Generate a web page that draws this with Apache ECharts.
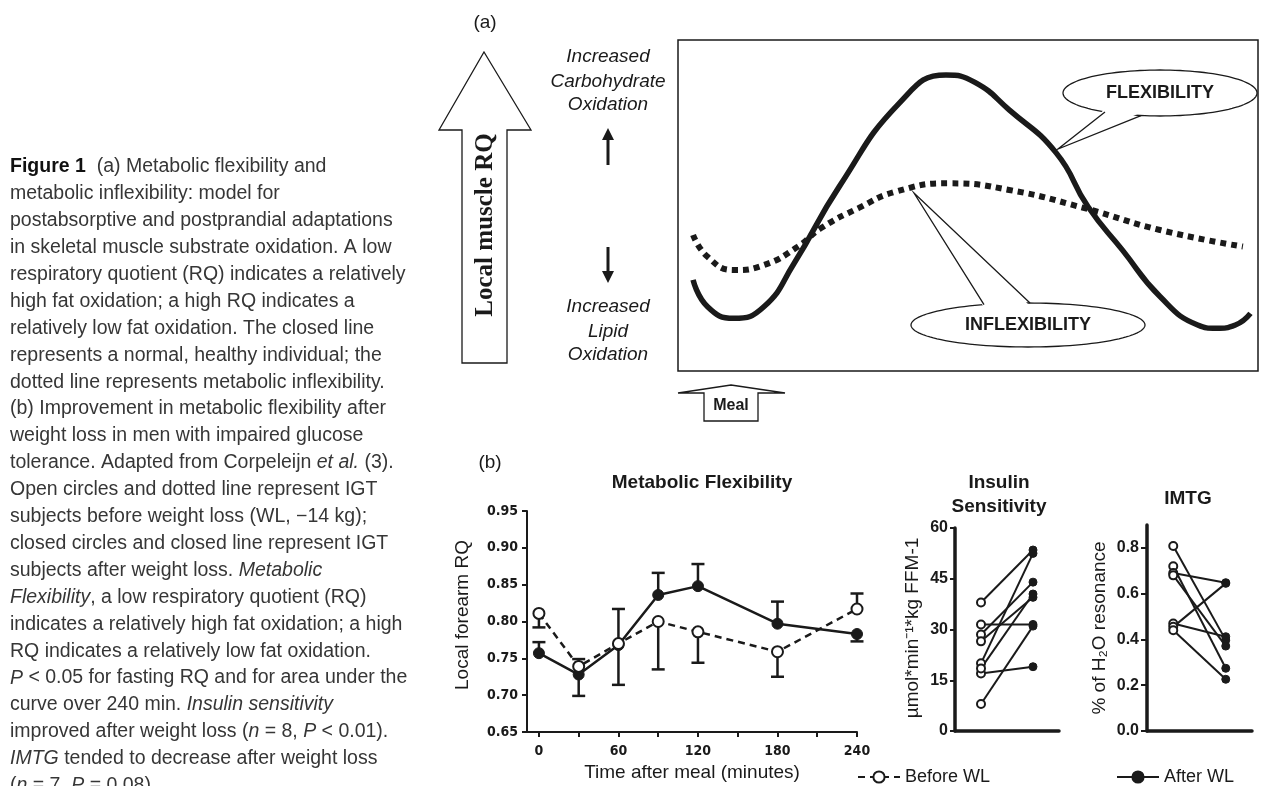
<!DOCTYPE html>
<html>
<head>
<meta charset="utf-8">
<script src="https://cdn.jsdelivr.net/npm/echarts@6/dist/echarts.min.js"></script>
<style>
  html, body { margin: 0; padding: 0; background: #fff; }
  #main { width: 1261px; height: 786px; }
</style>
</head>
<body>
<div id="main"></div>
<script>
// ---- panel (a): model curves, in % of the box (x: time, y: RQ)
const flexCurve = [[2.6, 27.5], [5.1, 19.4], [9.6, 15.9], [14.8, 19.4], [20, 32.5], [27.8, 55.7], [38.2, 81.0],
  [46.2, 89.4], [51.2, 87.2], [57.1, 78.9], [65.2, 65.9], [70.7, 49.6], [76.6, 36.6], [83.1, 22.5],
  [89.6, 13.9], [92.8, 12.9], [96.1, 13.9], [98.7, 17.4]]
const inflexCurve = [[2.6, 41.1], [5.1, 34.5], [9.6, 30.5], [14.8, 32.0], [20.7, 37.6], [24.6, 43.1], [31.1, 49.2],
  [37.6, 54.2], [46.7, 56.7], [57.1, 54.7], [70.1, 49.2], [83.1, 42.6], [97.4, 37.6]]

// ---- panel (b): metabolic flexibility
const times = [0, 30, 60, 90, 120, 180, 240]
const beforeRQ = [0.811, 0.739, 0.770, 0.800, 0.786, 0.759, 0.817]
const beforeBar = [0.792, 0.749, 0.714, 0.735, 0.744, 0.725, 0.838]  // end of the error bar
const afterRQ = [0.757, 0.728, 0.768, 0.836, 0.848, 0.797, 0.783]
const afterBar = [0.772, 0.699, 0.817, 0.866, 0.878, 0.827, 0.773]

// ---- insulin sensitivity, paired per subject
const insulinBefore = [38, 31.5, 8, 17, 28.5, 26.5, 20, 18.5]
const insulinAfter = [53.5, 31.5, 31, 19, 44, 39.5, 52.5, 40.5]
const insulinTicks = [0, 15, 30, 45, 60]

// ---- IMTG, paired per subject
const imtgBefore = [0.808, 0.72, 0.69, 0.68, 0.47, 0.455, 0.44]
const imtgAfter = [0.397, 0.274, 0.648, 0.371, 0.412, 0.645, 0.226]
const imtgTicks = [0, 0.2, 0.4, 0.6, 0.8]

const minuteLabels = [0, 60, 120, 180, 240]
const minuteTicks = [0, 30, 60, 90, 120, 150, 180, 210, 240]

const caption = [
  '{b|Figure 1}  (a) Metabolic flexibility and',
  'metabolic inflexibility: model for',
  'postabsorptive and postprandial adaptations',
  'in skeletal muscle substrate oxidation. A low',
  'respiratory quotient (RQ) indicates a relatively',
  'high fat oxidation; a high RQ indicates a',
  'relatively low fat oxidation. The closed line',
  'represents a normal, healthy individual; the',
  'dotted line represents metabolic inflexibility.',
  '(b) Improvement in metabolic flexibility after',
  'weight loss in men with impaired glucose',
  'tolerance. Adapted from Corpeleijn {i|et al.} (3).',
  'Open circles and dotted line represent IGT',
  'subjects before weight loss (WL, \u221214 kg);',
  'closed circles and closed line represent IGT',
  'subjects after weight loss. {i|Metabolic}',
  '{i|Flexibility}, a low respiratory quotient (RQ)',
  'indicates a relatively high fat oxidation; a high',
  'RQ indicates a relatively low fat oxidation.',
  '{i|P} < 0.05 for fasting RQ and for area under the',
  'curve over 240 min. {i|Insulin sensitivity}',
  'improved after weight loss ({i|n} = 8, {i|P} < 0.01).',
  '{i|IMTG} tended to decrease after weight loss',
  '({i|n} = 7, {i|P} = 0.08).'
]

const INK = '#1a1a1a'
const SANS = '"Liberation Sans", Arial, sans-serif'
const NARROW = '"DejaVu Sans Condensed", "Liberation Sans Narrow", "Liberation Sans", sans-serif'
const CAP = '19.5px ' + SANS

let chart = echarts.init(document.getElementById('main'))

function ellipsePts(cx, cy, rx, ry) {
  let pts = []
  for (let k = 0; k < 120; k++) {
    let a = k / 120 * Math.PI * 2
    pts.push([cx + rx * Math.cos(a), cy + ry * Math.sin(a)])
  }
  return pts
}

// speech bubble: ellipse + tail going to tip
function bubble(cx, cy, rx, ry, bx1, bx2, tip, below, label) {
  let edgeY = x => cy + (below ? 1 : -1) * ry * Math.sqrt(Math.max(0, 1 - ((x - cx) / rx) ** 2))
    , b1 = [bx1, edgeY(bx1)]
    , b2 = [bx2, edgeY(bx2)]
    , inset = below ? -3 : 3
  return [
    { type: 'polygon', z: 100, shape: { points: ellipsePts(cx, cy, rx, ry) }, style: { fill: '#fff', stroke: INK, lineWidth: 1.3 } },
    { type: 'polygon', z: 101, shape: { points: [[b1[0], b1[1] + inset], [b2[0], b2[1] + inset], tip] }, style: { fill: '#fff' } },
    { type: 'polyline', z: 102, shape: { points: [b1, tip, b2] }, style: { stroke: INK, lineWidth: 1.3, fill: 'none' } },
    { type: 'text', z: 103, x: cx, y: cy, style: { text: label, font: 'bold 18px ' + SANS, fill: INK, align: 'center', verticalAlign: 'middle' } }
  ]
}

function txt(x, y, text, font, extra) {
  return Object.assign({ type: 'text', z: 10, x: x, y: y, style: { text: text, font: font, fill: INK, align: 'center', verticalAlign: 'middle' } }, extra || {})
}

let graphics = []

// caption column
caption.forEach((line, i) => {
  graphics.push({
    type: 'text', z: 10, x: 10, y: 167 + i * 26.9,
    style: {
      text: line, font: CAP, fill: '#363636', verticalAlign: 'middle',
      rich: {
        b: { font: 'bold 19.5px ' + SANS, fill: '#111' },
        i: { font: 'italic 19.5px ' + SANS, fill: '#363636' }
      }
    }
  })
})

// panel (a) decorations
graphics.push(txt(485, 23, '(a)', '19px ' + SANS))
graphics.push({
  type: 'polygon', z: 10,
  shape: { points: [[484, 52], [531, 130], [507, 130], [507, 363], [462, 363], [462, 130], [439, 130]] },
  style: { fill: '#fff', stroke: INK, lineWidth: 1.3 }
})
graphics.push(txt(486, 225, 'Local muscle RQ', 'bold 25px "Liberation Serif", "Times New Roman", serif', { rotation: Math.PI / 2 }))
graphics.push(txt(608, 57, 'Increased', 'italic 19px ' + SANS))
graphics.push(txt(608, 82, 'Carbohydrate', 'italic 19px ' + SANS))
graphics.push(txt(608, 105, 'Oxidation', 'italic 19px ' + SANS))
graphics.push(txt(608, 307, 'Increased', 'italic 19px ' + SANS))
graphics.push(txt(608, 332, 'Lipid', 'italic 19px ' + SANS))
graphics.push(txt(608, 355, 'Oxidation', 'italic 19px ' + SANS))
graphics.push({
  type: 'polygon', z: 10,
  shape: { points: [[608, 128], [614, 140], [609.5, 140], [609.5, 165], [606.5, 165], [606.5, 140], [602, 140]] },
  style: { fill: INK }
})
graphics.push({
  type: 'polygon', z: 10,
  shape: { points: [[608, 283], [614, 271], [609.5, 271], [609.5, 247], [606.5, 247], [606.5, 271], [602, 271]] },
  style: { fill: INK }
})
graphics.push(...bubble(1160, 93, 97, 23, 1105, 1141, [1058, 149], true, 'FLEXIBILITY'))
graphics.push(...bubble(1028, 325, 117, 22, 984, 1030, [914, 193], false, 'INFLEXIBILITY'))
// meal arrow
graphics.push({
  type: 'polygon', z: 10,
  shape: { points: [[731, 385], [785, 393], [758, 393], [758, 421], [704, 421], [704, 393], [678, 393]] },
  style: { fill: '#fff', stroke: INK, lineWidth: 1.3 }
})
graphics.push(txt(731, 406, 'Meal', 'bold 16px ' + SANS))

// panel (b) titles
graphics.push(txt(490, 463, '(b)', '19px ' + SANS))
graphics.push(txt(702, 483, 'Metabolic Flexibility', 'bold 19px ' + SANS))
graphics.push(txt(999, 483, 'Insulin', 'bold 19px ' + SANS))
graphics.push(txt(999, 507, 'Sensitivity', 'bold 19px ' + SANS))
graphics.push(txt(1188, 499, 'IMTG', 'bold 19px ' + SANS))
graphics.push(txt(463, 615, 'Local forearm RQ', '19px ' + SANS, { rotation: Math.PI / 2 }))
graphics.push(txt(692, 773, 'Time after meal (minutes)', '19px ' + SANS))
graphics.push(txt(913, 628, '\u00b5mol*min\u207b\u00b9*kg FFM-1', '19px ' + SANS, { rotation: Math.PI / 2 }))
graphics.push(txt(1100, 628, '% of H\u2082O resonance', '19px ' + SANS, { rotation: Math.PI / 2 }))

// error bar: line from mean to bar end, with a cap
function errBar(params, api) {
  let p0 = api.coord([api.value(0), api.value(1)])
    , p1 = api.coord([api.value(0), api.value(2)])
  return {
    type: 'group', children: [
      { type: 'line', shape: { x1: p0[0], y1: p0[1], x2: p1[0], y2: p1[1] }, style: { stroke: INK, lineWidth: 2.5 } },
      { type: 'line', shape: { x1: p1[0] - 6.5, y1: p1[1], x2: p1[0] + 6.5, y2: p1[1] }, style: { stroke: INK, lineWidth: 2.5 } }
    ]
  }
}

const openDot = { color: '#fff', borderColor: INK, borderWidth: 2 }
const fullDot = { color: INK, borderColor: INK, borderWidth: 1 }

function pairSeries(before, after, axis) {
  return before.map((b, i) => ({
    type: 'line', xAxisIndex: axis, yAxisIndex: axis, silent: true,
    symbol: 'circle', symbolSize: 8, z: 5,
    lineStyle: { color: INK, width: 2 },
    data: [
      { value: [0.25, b], itemStyle: openDot },
      { value: [0.75, after[i]], itemStyle: fullDot }
    ]
  }))
}

const boldTick = { fontFamily: SANS, fontWeight: 'bold', fontSize: 16, color: INK }
const thickAxis = { show: true, lineStyle: { color: INK, width: 3.5 } }

chart.setOption({
  animation: false,
  graphic: { elements: graphics },
  legend: [
    {
      data: ['Before WL'], left: 852, top: 763, itemWidth: 42, itemHeight: 14, itemGap: 8,
      textStyle: { fontFamily: SANS, fontSize: 18, color: INK }
    },
    {
      data: ['After WL'], left: 1111, top: 763, itemWidth: 42, itemHeight: 14, itemGap: 8,
      textStyle: { fontFamily: SANS, fontSize: 18, color: INK }
    }
  ],
  grid: [
    { left: 678, top: 40, width: 580, height: 331, show: true, borderColor: INK, borderWidth: 1.5, backgroundColor: 'transparent', outerBoundsMode: 'none' },
    { left: 527, top: 511, width: 330, height: 221, outerBoundsMode: 'none' },
    { left: 955, top: 528, width: 104, height: 203, outerBoundsMode: 'none' },
    { left: 1147, top: 525, width: 105, height: 206, outerBoundsMode: 'none' }
  ],
  xAxis: [
    { gridIndex: 0, type: 'value', min: 0, max: 100, show: false },
    {
      gridIndex: 1, type: 'value', min: -9, max: 240,
      axisLine: { show: true, onZero: false, lineStyle: { color: INK, width: 2 } },
      axisTick: { show: true, length: 5, lineStyle: { color: INK, width: 2 }, customValues: minuteTicks },
      axisLabel: {
        customValues: minuteLabels, margin: 12,
        fontFamily: NARROW, fontWeight: 'bold', fontSize: 14, color: INK
      },
      splitLine: { show: false }
    },
    {
      gridIndex: 2, type: 'value', min: 0, max: 1,
      axisLine: Object.assign({ onZero: false }, thickAxis), axisTick: { show: false }, axisLabel: { show: false }, splitLine: { show: false }
    },
    {
      gridIndex: 3, type: 'value', min: 0, max: 1,
      axisLine: Object.assign({ onZero: false }, thickAxis), axisTick: { show: false }, axisLabel: { show: false }, splitLine: { show: false }
    }
  ],
  yAxis: [
    { gridIndex: 0, type: 'value', min: 0, max: 100, show: false },
    {
      gridIndex: 1, type: 'value', min: 0.65, max: 0.95, interval: 0.05,
      axisLine: { show: true, onZero: false, lineStyle: { color: INK, width: 2 } },
      axisTick: { show: true, length: 5, lineStyle: { color: INK, width: 2 } },
      axisLabel: {
        margin: 9, formatter: v => v.toFixed(2),
        fontFamily: NARROW, fontWeight: 'bold', fontSize: 14, color: INK
      },
      splitLine: { show: false }
    },
    {
      gridIndex: 2, type: 'value', min: 0, max: 60, interval: 15,
      axisLine: Object.assign({ onZero: false }, thickAxis),
      axisTick: { show: true, length: 5, lineStyle: { color: INK, width: 2 }, customValues: insulinTicks },
      axisLabel: Object.assign({ margin: 7, customValues: insulinTicks }, boldTick),
      splitLine: { show: false }
    },
    {
      gridIndex: 3, type: 'value', min: 0, max: 0.9, interval: 0.2,
      axisLine: Object.assign({ onZero: false }, thickAxis),
      axisTick: { show: true, length: 6, lineStyle: { color: INK, width: 2 }, customValues: imtgTicks },
      axisLabel: Object.assign({ margin: 8, customValues: imtgTicks, formatter: v => v.toFixed(1) }, boldTick),
      splitLine: { show: false }
    }
  ],
  series: [
    {
      name: 'flexible', type: 'line', xAxisIndex: 0, yAxisIndex: 0, smooth: 0.5, showSymbol: false, silent: true,
      lineStyle: { color: INK, width: 5.5 }, data: flexCurve
    },
    {
      name: 'inflexible', type: 'line', xAxisIndex: 0, yAxisIndex: 0, smooth: 0.5, showSymbol: false, silent: true,
      lineStyle: { color: INK, width: 6, type: [6, 5], cap: 'butt' }, data: inflexCurve
    },
    {
      name: 'beforeBars', type: 'custom', xAxisIndex: 1, yAxisIndex: 1, z: 2, silent: true,
      renderItem: errBar, encode: { x: 0, y: [1, 2] },
      data: times.map((t, i) => [t, beforeRQ[i], beforeBar[i]])
    },
    {
      name: 'afterBars', type: 'custom', xAxisIndex: 1, yAxisIndex: 1, z: 2, silent: true,
      renderItem: errBar, encode: { x: 0, y: [1, 2] },
      data: times.map((t, i) => [t, afterRQ[i], afterBar[i]])
    },
    {
      name: 'After WL', type: 'line', xAxisIndex: 1, yAxisIndex: 1, z: 4,
      symbol: 'circle', symbolSize: 11,
      lineStyle: { color: INK, width: 2.5 }, itemStyle: { color: INK, borderColor: INK, borderWidth: 1 },
      data: times.map((t, i) => [t, afterRQ[i]])
    },
    {
      name: 'Before WL', type: 'line', xAxisIndex: 1, yAxisIndex: 1, z: 5,
      symbol: 'circle', symbolSize: 11,
      lineStyle: { color: INK, width: 2.5, type: [7, 5] }, itemStyle: openDot,
      data: times.map((t, i) => [t, beforeRQ[i]])
    },
    ...pairSeries(insulinBefore, insulinAfter, 2),
    ...pairSeries(imtgBefore, imtgAfter, 3)
  ]
})
</script>
</body>
</html>
